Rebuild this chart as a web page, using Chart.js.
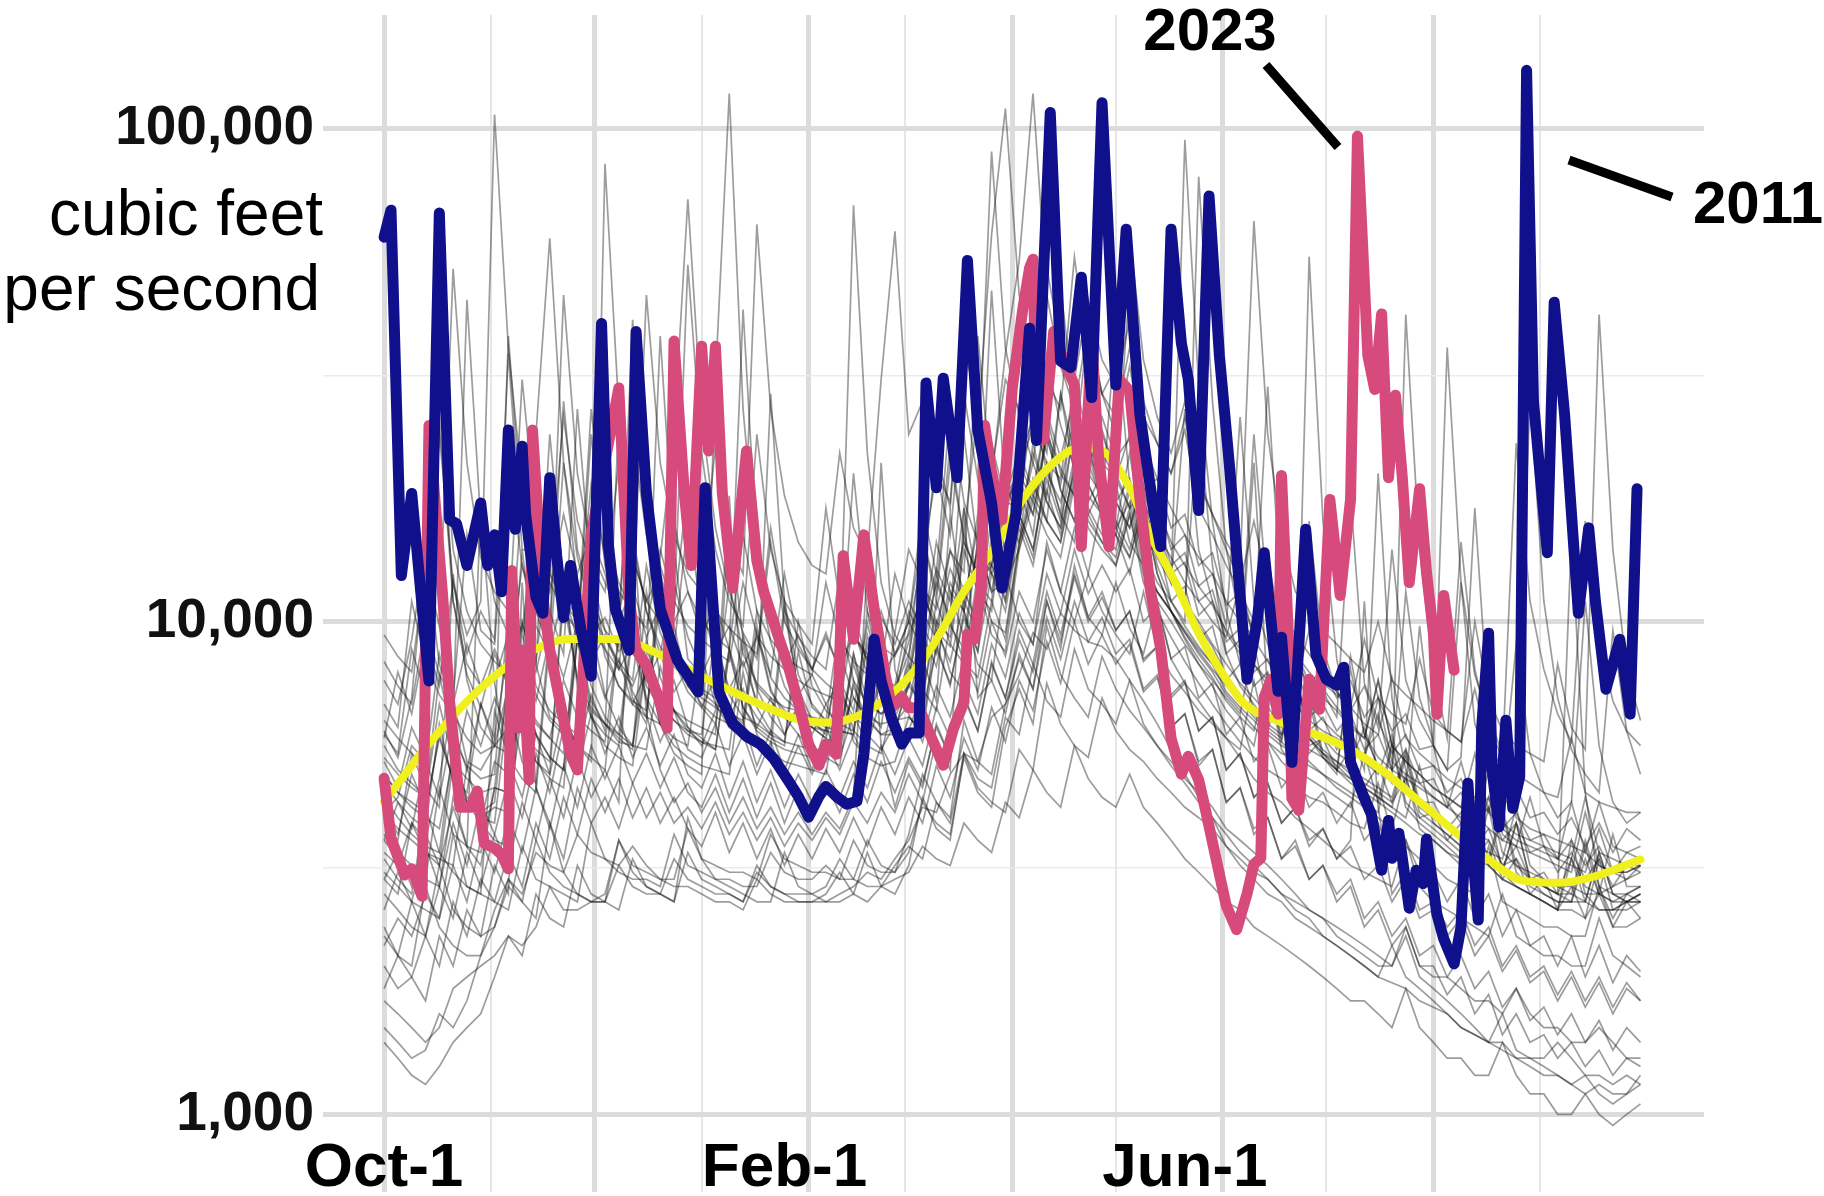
<!DOCTYPE html>
<html>
<head>
<meta charset="utf-8">
<script src="https://cdn.jsdelivr.net/npm/chart.js@4.4.1/dist/chart.umd.min.js"></script>
<style>
  html, body { margin: 0; padding: 0; background: #ffffff; }
  canvas { display: block; }
</style>
</head>
<body>
<canvas id="flow" width="1824" height="1196"></canvas>
<script>
// River flow in cubic feet per second, by day of the water year (Oct 1 = day 0).

// Water year 2011: [day, cfs]
const flow2011 = [
  [0,60300],[2,68400],[5,12400],[8,18200],[13,7580],[16,67500],[19,16100],[21,15800],[24,13000],[28,17400],
  [30,13000],[32,15000],[34,11500],[36,24500],[38,15400],[40,22700],[41,16500],[44,11200],[46,10400],[48,19600],
  [50,13600],[52,10200],[54,13000],[57,9650],[60,7750],[63,40300],[65,14300],[67,10600],[71,8750],[73,38800],
  [76,18200],[80,10600],[85,8350],[89,7580],[91,7200],[93,18700],[97,7200],[101,6220],[105,5850],[109,5640],
  [113,5260],[117,4770],[120,4420],[123,4010],[126,4420],[128,4630],[131,4420],[134,4260],[137,4320],[139,5380],
  [142,9210],[144,7580],[147,6370],[150,5640],[152,5940],[155,5940],[157,30500],[160,18700],[162,31200],[166,19600],
  [169,54100],[172,24500],[176,17400],[179,11700],[183,16500],[187,39400],[189,23300],[193,108000],[196,33800],[199,32800],
  [202,50000],[205,28500],[208,113000],[212,30200],[215,62600],[219,26200],[223,16800],[225,14200],[228,62600],[231,36700],
  [233,31000],[236,16800],[239,73100],[242,34700],[245,20400],[250,7640],[253,10100],[255,13800],[259,7220],[260,9300],
  [263,5180],[267,15400],[270,8550],[273,7640],[276,7430],[278,8080],[280,5180],[284,4380],[286,4070],[289,3130],
  [291,3950],[292,3310],[294,3720],[297,2620],[299,3130],[301,2940],[302,3620],[305,2550],[307,2270],[310,2020],
  [312,2400],[314,4700],[315,3620],[317,2480],[318,6110],[320,9470],[321,5000],[323,3830],[325,6310],[327,4180],
  [329,4840],[331,131500],[333,27900],[337,13800],[339,44500],[342,26400],[346,10400],[349,15500],[351,10900],[354,7290],
  [358,9210],[361,6490],[363,18600]
];

// Water year 2023 (ends in early August): [day, cfs]
const flow2023 = [
  [0,4810],[2,3630],[6,3060],[8,3150],[11,2770],[13,25000],[17,11200],[19,6860],[22,4200],[25,4200],
  [27,4530],[29,3550],[32,3470],[34,3370],[36,3150],[37,12700],[39,6080],[40,8760],[42,4770],[43,24500],
  [46,11200],[48,8760],[51,6860],[54,5380],[56,5000],[60,15000],[68,29800],[71,11200],[73,8760],[76,8160],
  [80,6860],[82,6080],[84,37100],[87,18200],[89,13000],[92,36200],[94,22200],[96,36200],[98,18200],[101,11700],
  [105,22200],[108,13300],[110,11500],[114,9430],[117,8160],[120,6860],[123,5640],[126,5110],[128,5640],[131,5380],
  [133,13600],[136,9210],[139,15000],[142,10600],[145,7930],[147,6690],[150,7030],[152,6690],[155,6690],[158,5940],
  [162,5110],[165,6080],[168,6860],[169,9430],[171,9210],[173,11700],[174,25000],[176,20100],[179,16100],[182,29800],
  [185,42900],[187,52200],[188,54400],[189,26200],[191,23400],[194,38800],[197,33800],[200,30200],[202,14200],[205,37800],
  [207,21600],[210,14200],[213,31000],[216,29400],[219,17700],[222,11600],[225,8790],[228,5800],[231,4900],[233,5330],
  [236,4770],[238,4140],[241,3310],[244,2650],[247,2370],[250,2800],[252,3220],[254,3310],[255,7030],[257,7640],
  [259,6490],[260,19800],[262,9300],[263,4380],[265,4140],[268,7640],[271,6640],[274,17700],[277,11300],[280,17700],
  [282,96700],[285,34700],[287,29600],[289,42100],[291,19600],[293,28800],[295,19600],[297,12000],[300,18600],[302,12600],
  [304,9470],[305,6490],[307,11300],[310,7970]
];

// Smoothed median of all years: [day, cfs]
const medianFlow = [
  [0,4310],[13,5650],[27,7220],[40,8500],[54,9220],[67,9220],[81,8500],[94,7620],[108,6840],[121,6300],
  [128,6240],[138,6470],[148,7220],[158,8730],[168,11500],[177,14200],[185,17700],[194,21000],[202,22600],[209,22000],
  [216,18700],[222,15000],[229,12100],[236,9470],[243,7830],[249,6840],[260,6240],[270,5900],[280,5500],[290,4940],
  [300,4310],[310,3760],[320,3290],[330,2980],[340,2950],[350,3030],[364,3290]
];

// Days at which the other years are sampled
const sampleDays = [
  0,4,8,12,16,20,24,28,32,36,40,44,48,52,56,60,64,68,72,76,80,84,88,92,96,100,104,108,112,116,
  120,124,128,132,136,140,144,148,152,156,160,164,168,172,176,180,184,188,192,196,200,204,208,212,216,220,224,228,232,236,
  240,244,248,252,256,260,264,268,272,276,280,284,288,292,296,300,304,308,312,316,320,324,328,332,336,340,344,348,352,356,
  360,364
];

// Other years, cfs at sampleDays (Oct | Nov | Dec | Jan | Feb | Mar | Apr | May | Jun | Jul | Aug | Sep)
const yearA = [4100,4400,5600,5200,26000,11000,8200,7400, 7600,9400,8300,7900,10500,8600,27000,12500, 9600,8100,7400,8900,7100,6600,6300,
  6100,5900,16000,9200,7300,6400,5900,6700, 6100,5800,7200,6400,6100,7900,7300, 9100,11800,10600,13900,12600,38000,19000,16500,
  21000,26000,22000,48000,27000,22000,24500, 20000,17000,18500,14500,12500,11000,26000,13000, 8600,7400,6800,6200,6900,5900,5600,5800,
  5400,5200,6100,5000,4800,4600,9800, 5600,4300,3900,3700,3600,3200,3300,3000, 2900,2800,3300,2900,2800,2900,3000,3200];
const yearB = [1500,1400,1300,1350,1600,1500,1700,2100, 2600,3000,2800,3400,3200,3100,3700,3400, 3300,3200,3500,3200,3000,2900,2900,
  2800,2700,2700,2600,3000,2800,2700,2700, 2700,2700,2800,2900,3100,3000,3300, 3600,4200,4100,4900,5400,5200,6400,6800,
  7800,9500,8800,10400,9600,9100,8900, 8400,7600,6900,6200,5500,4900,4400,4000, 3500,3200,3000,2800,2700,2500,2400,2300,
  2200,2100,2000,1900,1850,1800,1700, 1650,1600,1500,1450,1400,1350,1300,1250, 1200,1200,1150,1100,1150,1100,1100,1200];
const yearC = [3400,3200,3900,3600,4800,6900,5200,5000, 5600,6100,14000,8200,6400,6000,5700,9800, 7100,6100,5600,8300,6200,5400,5100,
  4900,31000,118000,27000,13000,9100,7400,6600, 6100,5800,5600,8600,6400,5900,6100, 7400,12000,9100,10400,17000,12000,13000,19000,
  16000,22000,18000,29000,20000,18000,16500, 19000,14500,13000,11500,10500,9200,8200,7400, 6600,6100,5600,7700,5500,5000,4800,4600,
  4400,4200,5400,4300,4100,3900,3700, 3600,3400,3200,4300,3200,3000,2900,2800, 2700,2600,3300,2700,2600,2600,2700,2800];
const yearD = [5900,5400,8800,7100,24000,12000,9400,11000, 107000,36000,19000,15000,12500,26000,16000,13000, 11500,21000,13500,11000,10000,16000,11500,
  10000,9300,8800,15000,10500,9200,8500,8100, 7800,12000,9200,8300,7800,10500,8600, 10000,15000,11500,23000,14500,12500,17500,14000,
  19000,15000,25000,18500,16000,22000,17500, 15000,12500,17000,12500,10500,9500,8600,7900, 7100,6600,6100,5700,5400,5300,55000,16000,
  8400,6000,5200,4900,5900,4600,4300, 4100,3900,3600,3400,3300,3100,3900,3000, 2800,2700,2700,3300,2800,2700,2800,2900];
const yearE = [3000,2800,3900,3400,3200,5200,4300,4000, 3900,6800,5200,4700,9800,6400,5600,5200, 85000,27000,14500,10500,8600,12000,9300,
  8000,7200,6600,6200,9800,7300,6400,5900, 5500,5300,5100,7600,5900,5500,6200, 6800,9400,8100,11500,9300,14500,11500,12000,
  14000,19000,16000,14500,21000,16500,14500, 13000,16500,12000,10500,9300,8300,7500,6800, 6200,5700,5300,5000,4800,4600,4400,4300,
  4100,3900,3800,4700,3700,3500,3300, 3200,3000,2900,2800,3500,2700,2600,2500, 2400,2400,2300,2300,2900,2400,2400,2500];
const yearF = [4900,4500,4300,4100,5900,4800,4500,6800, 5800,8900,7000,6200,5800,7600,6400,6000, 5700,9400,7200,6400,12000,8300,7200,
  6700,6200,8800,7100,6400,5900,11000,7800, 6800,6300,5900,8200,6600,6100,9500, 14000,12000,22000,17000,38000,25000,61000,110000,
  46000,33000,52000,37000,31000,45000,34000, 30000,41000,28000,23000,20000,24500,17000,15000, 13000,11500,10000,13500,9500,8600,7900,7300,
  6700,6200,5800,7600,5600,5200,4900, 4600,4400,4200,5400,4100,3800,3600,3500, 3400,3300,4300,3400,3200,3100,3100,3200];
const yearG = [1400,1300,1200,1150,1250,1400,1500,1600, 1900,2300,2100,2800,2500,2400,3200,2800, 2700,2600,3300,2900,2800,2700,3400,
  3000,2900,2800,2700,3200,2900,2800,2700, 2700,2800,3100,2800,2700,2900,3200, 3500,3300,4300,3900,5400,4800,4600,6400,
  5900,8200,6900,6400,8800,7300,6800, 6200,7600,6200,5600,5100,4700,4300,4000, 3700,3400,3200,3000,2800,2600,2500,2300,
  2200,2100,2000,1900,2200,1900,1800, 1700,1600,1500,1450,1400,1600,1350,1300, 1250,1200,1150,1200,1100,1050,1100,1150];
const yearH = [7600,6800,9200,14000,31000,14000,10500,9000, 8300,7800,13000,9800,8600,21000,12000,9700, 8800,8000,15000,10500,8900,8100,7600,
  7300,7000,12000,8600,7500,7000,6700,6600, 6400,6300,10000,7600,6800,6500,6900, 7400,9800,8600,12000,10500,14000,12500,14500,
  16500,14000,20500,16500,14500,23000,17500, 15500,13500,17000,12500,10500,9300,8400,7700, 6900,6400,6000,7800,5700,5300,5100,4900,
  4700,4500,4300,4100,5600,4200,3900, 3700,3500,3300,3200,4200,3100,2900,2800, 2700,2600,3600,2800,2600,2600,2700,2800];
const yearI = [3900,3600,5400,4600,4200,12500,7600,6100, 5600,38000,16000,11000,9400,28000,14000,11000, 9600,8900,41000,18500,13000,10500,53000,
  22000,14000,11000,9800,24000,14000,11000,9900, 9000,17000,11000,9400,8600,8100,12500, 10000,17000,12500,27000,17500,14500,23000,17500,
  17000,28000,20000,17500,24000,19000,16500, 15000,19000,14000,12000,11000,10000,80000,28000, 14000,10000,8200,7400,8600,6800,6300,6000,
  5800,5500,5300,6500,5000,4800,4600, 4400,4200,5200,4100,3800,3600,3500,4400, 3500,3300,3200,3100,3800,3100,3000,3100];
const yearJ = [4400,4000,3700,3500,3400,5600,4300,3900, 5200,4900,9500,7100,6300,5900,5600,11500, 8500,7400,6900,6600,11000,8400,7400,
  7000,6700,6400,9400,7400,6900,6400,6300, 6200,6000,8700,7000,6400,6200,6300, 6400,6000,9000,7400,10500,8200,7600,12500,
  10000,9000,14500,11500,10000,12500,10500, 9400,8600,11500,8800,7800,7200,6600,6200, 5800,5500,7600,5700,5200,4900,6900,5300,
  4900,8500,5900,5100,4700,42000,14000, 8000,5800,14500,8000,6100,5300,23000,11000, 8000,6500,5700,16000,9200,6900,6000,5600];
const yearK = [2300,2100,2000,2900,2400,2200,2100,2100, 2400,3000,2700,2500,3900,3100,2800,2700, 2700,3600,3100,2900,2800,2700,4000,
  3300,3000,2900,2800,2700,2700,3400,2900, 2800,2700,2700,2800,3400,2900,2800, 3200,4400,3800,3600,5400,4600,4300,4100,
  5500,5000,7500,6200,5600,5300,7000, 6000,5500,5200,4800,4500,4200,4000,3800, 3500,3300,3100,3000,2800,2700,2600,2500,
  2400,2300,2200,2100,2000,2400,2000, 1900,1900,1800,1700,1700,1600,1800,1600, 1500,1500,1400,1400,1500,1400,1300,1300];
const yearL = [5600,5000,4700,4400,7800,5800,5100,4800, 4900,10500,7300,6300,5800,5400,9300,6900, 6200,5800,5500,11500,7700,6600,6100,
  5800,5500,8800,6700,6000,5700,5500,5400, 5300,5200,7600,6000,5600,5400,7000, 9600,13500,20000,15000,29000,19500,90000,36000,
  26000,21000,34000,25000,20500,29000,22000, 19500,17000,24000,17000,14500,13000,11800,10800, 9600,8800,8200,7600,7100,9400,6800,6300,
  5900,5600,5300,7000,5200,4900,4700, 4400,4200,4000,3800,5000,3700,3500,3400, 3300,3200,3100,4100,3200,3100,3100,3200];
const yearM = [3600,3300,3100,3000,4600,3700,3500,3400, 4600,4500,7600,5900,5300,5000,9200,6700, 6200,5700,5600,5500,8100,6600,6000,
  5700,5600,5500,9000,6700,6000,5700,5600, 5500,5500,5500,7400,6300,5900,5900, 6000,7300,6600,10000,8300,7700,11000,9200,
  14500,19500,16000,29000,22000,40000,29000, 33000,61000,34000,26000,22000,28000,19500,16500, 14000,12000,16000,12000,10500,9400,8600,7900,
  7200,6700,6200,5900,7700,5800,5400, 5100,4800,4600,4400,4100,5400,4000,3800, 3700,3600,3500,3400,4300,3500,3400,3500];
const yearN = [3100,2900,2700,2600,2500,3700,2900,2800, 2700,2600,3500,3000,2900,2800,2700,3900, 3300,3100,3000,3000,2900,3700,3200,
  3100,3000,3000,2900,2900,3400,3100,3000, 3000,3200,3000,3000,3600,3200,3100, 3700,4900,4300,4000,6300,5200,4900,6800,
  8400,7300,11000,8800,13000,10200,9400, 12000,9700,8600,11000,8400,7500,6900,6300, 5800,5300,4800,4500,4300,4000,3800,3600,
  3400,3200,3100,3000,2900,3600,2900, 2700,2600,2500,2400,2300,2800,2300,2200, 2100,2100,2000,2000,2500,2100,2000,1900];
const yearO = [8300,7400,6800,9900,7800,7000,15000,9600, 9000,21000,13000,10500,9500,46000,20000,14000, 12000,10500,24000,15000,12000,10500,19000,
  12500,10500,9700,9100,8600,15500,10500,9300, 8500,8000,12500,9400,8400,7800,7400, 10500,9300,14500,11500,10500,16500,12500,11500,
  21000,18000,26000,20000,18000,23000,19000, 17500,15500,19000,14500,12500,11000,9800,8900, 7800,7100,6600,6200,5900,7800,5800,5400,
  5200,5000,4800,4600,4400,5500,4300, 4100,3900,3700,3500,3400,3300,4200,3200, 3000,2900,2900,2800,2800,3700,2900,2900];
const yearP = [4900,4500,4200,4000,3800,5300,4400,4100, 4300,7700,5900,5200,4900,12000,7600,6400, 5900,5600,9400,7000,6200,5800,5600,
  8500,6800,6100,5800,5600,5500,10500,7300, 6300,5900,8800,70000,22000,12000,9400, 8500,7800,12500,9800,8800,14500,11500,16500,
  14500,23000,17500,15500,20000,17000,15000, 14000,18500,13500,11500,10500,9500,8700,8000, 7400,6900,6400,6000,5700,7900,5800,5300,
  5000,4700,4500,4300,5700,4300,4000, 3800,3600,3400,3300,3200,4100,3100,2900, 2800,2700,2700,3500,2800,2700,2700,2800];
const yearQ = [1700,1600,1500,1400,1500,1800,1900,2000, 2100,2300,2200,2400,2900,2600,2600,2700, 2700,3200,2900,2800,2800,3300,3000,
  2900,2800,2800,2700,3100,2900,2800,2800, 2800,2900,3300,3000,2900,2900,3000, 3100,3500,3300,3200,3900,3600,3400,4300,
  4000,5000,4500,4200,5600,4800,4400, 4200,4900,4200,3900,3600,3300,3100,2900, 2700,2600,2400,2300,2200,2100,2000,1900,
  1800,1700,1700,1600,1500,1800,1500, 1400,1300,1300,1200,1200,1400,1200,1100, 1100,1000,1000,1100,1000,950,1000,1050];
const yearR = [9400,8500,7900,13000,9800,52000,21000,13500, 11500,10500,9600,16000,12000,10500,9600,27000, 15000,12000,10500,9700,14000,11000,9800,
  9200,8700,8300,12000,9400,8500,8000,7600, 7300,7100,6900,9800,7800,7200,7000, 7800,10500,9200,14000,11500,10000,16500,12500,
  19000,16500,24000,18500,16000,21000,17500, 16000,14000,18000,13500,12000,95000,30000,16000, 10500,8200,6600,6000,7700,5600,5200,4900,
  4600,4400,4200,4000,3800,4900,3800, 3600,3400,3300,4200,3200,3000,2900,2800, 2700,2600,2600,2500,3300,2600,2600,2700];
const yearS = [6300,5800,5400,5100,8600,6500,5800,5400, 5600,5400,10000,7400,6600,6200,5900,12500, 8800,7400,6800,6400,6200,9800,7400,
  6800,6400,6200,6000,9500,7200,6600,6300, 6100,6000,5900,8600,6900,6500,6800, 8000,11500,9600,8900,14000,11500,10500,17500,
  20000,25000,21000,19500,31000,23500,21000, 19500,24000,17500,15000,13500,12000,11000,10000, 9300,12000,9200,8300,7800,7400,9600,7500,
  7100,6700,9200,7000,6500,6200,8400, 6500,6000,5700,10000,7000,6000,5600,5400, 5200,8200,6100,5500,42000,14000,8000,6300];
const yearT = [3300,3000,2800,4200,3400,3100,2900,2800, 6600,5300,4800,4500,9200,6400,5600,5300, 5000,9400,7000,6200,13500,24000,72000,
  26000,15500,11500,9500,8400,14500,10000,8800, 8000,7500,7100,10500,8200,7500,7300, 8600,12000,10000,9300,15000,12000,11000,18000,
  20000,17500,24000,20500,18000,22000,19000, 17500,15500,20000,14500,12500,11000,10000,9000, 8200,7500,7000,6500,6100,7900,5900,5500,
  5200,4900,4700,4500,4300,5400,4200, 4000,3800,3600,3500,4400,3400,3200,3100, 3000,2900,2800,3600,2900,2800,2800,2900];
const yearU = [4100,3800,3600,3400,3300,3200,5100,3900, 3600,3500,8100,24000,60000,21000,13500,10500, 9200,8300,7600,13000,9500,8300,7600,
  7200,6800,6500,6300,10500,7700,7000,6600, 6300,6100,6000,5900,9000,7000,6400, 7400,6800,11000,9000,8200,12500,10000,9500,
  14500,18000,16000,14500,19500,16000,14500, 13500,17000,13000,11500,10500,9600,8800,8200, 7600,7000,6500,6100,5800,7800,5800,5400,
  5100,4800,4600,4400,4200,5300,4100, 3900,3700,3500,3400,3300,4200,3200,3000, 2900,2800,2700,2700,3400,2800,2700,2700];
const yearV = [5300,4900,4600,4400,6800,5200,4800,4500, 4600,4500,7600,5900,5300,5000,10500,7400, 6400,5900,5600,9200,7000,6300,5900,
  5700,5500,8600,6700,6100,5800,5600,10000, 7400,6600,6200,6000,9400,7200,6600, 8400,15000,11000,21000,15000,27000,19500,35000,
  54000,118000,46000,33000,27000,40000,29000, 24000,33000,23000,19500,17000,15000,13500,12500, 11000,10000,9300,12500,9000,8200,7500,7000,
  6600,6100,5800,7600,5600,5200,4900, 4600,4400,4200,4000,5300,3900,3700,3600, 3500,3400,3300,4400,3400,3300,3200,3200];
const yearW = [2800,2600,2400,2300,3200,2600,2400,2300, 2400,2900,2700,3600,3100,2900,2800,2700, 2800,3600,3200,3100,3000,3000,3800,
  3300,3200,3100,3100,3000,3700,3300,3200, 3100,3100,3000,3600,3200,3100,3100, 3400,4300,3900,3700,5300,4500,4200,6100,
  7300,6200,9800,7800,7000,6400,8500, 7300,6600,6100,5600,5200,4800,4500,4200, 3800,3600,3400,3200,3000,2800,2600,2500,
  2300,2200,2100,2000,2000,2300,1900, 1800,1700,1600,1500,1400,1400,1300,1300, 1300,1400,1300,1200,1200,1150,1200,1150];
const yearX = [6800,6100,11000,8300,7100,6500,45000,16000, 11000,9400,31000,16000,12500,11000,10000,19000, 13500,11500,10500,46000,21000,15000,12500,
  11500,23000,14500,12500,64000,27000,18000,14500, 13000,12500,22000,15500,13500,31000,62000, 24000,28000,20000,17500,40000,24000,20000,31000,
  27000,40000,31000,27000,55000,34000,29000, 26000,36000,26000,23000,20000,26000,19000,16500, 14500,13000,65000,24000,15000,11500,10500,9600,
  9000,8400,7900,10000,7600,7100,6700, 6300,6000,5700,7300,5500,5100,4900,4700, 4500,4400,5800,4500,4300,4200,4100,4100];
const yearY = [3700,3400,3200,3000,2900,4400,3500,3200, 4600,7700,6000,5500,5200,11000,7700,6600, 6200,5900,9800,7400,6700,6300,6000,
  5900,9500,7100,6400,6200,5900,5700,8700, 6700,6300,6000,5900,10500,7600,6700, 6800,8400,6900,16500,10500,8700,15000,11000,
  16000,21000,17500,15500,26000,19000,16500, 15000,13500,17500,13000,11000,9800,8900,8200, 7200,6700,6300,5900,5600,5400,7200,5400,
  5000,4800,4600,4400,4200,4000,5100, 3900,3700,3500,3400,3300,3100,3900,3000, 2900,2800,2800,2700,3400,2800,2700,2700];
const yearZ = [4700,4300,4000,3800,6200,4700,4300,4000, 4200,4100,6600,5200,4800,4600,9300,6400, 5600,5300,5100,8300,6200,5600,5300,
  5100,5000,4900,7900,5900,5400,5200,5100, 5000,4900,7400,5700,5300,5100,5200, 6400,6000,10000,7900,7200,12000,9400,8700,
  14000,17500,15000,13500,19000,15500,14000, 13000,16500,12500,11000,10000,9000,8200,7600, 7000,6500,9000,6700,6200,5800,5500,5300,
  5000,8000,5900,5300,5000,11500,7000, 5700,36000,12000,7800,6400,5400,4800,29000, 11000,7000,5500,4900,4500,9600,6000,4900];
const yearAA = [3600,4300,3800,5200,4400,6100,5000,6800, 5600,7400,6200,8300,24000,12000,7400,8600, 7000,8400,6800,7900,6400,7600,6100,
  5600,6600,18000,6300,5100,6000,5000,5900, 5000,6100,5300,6500,5600,7000,6000, 7600,6600,8800,7500,10200,8700,12500,10500,
  15500,13000,18500,15000,20500,16500,19000, 15500,17500,13500,14500,11000,11800,9200,9800, 7600,8200,21000,7100,5900,6400,5400,5800,
  5000,5500,4600,5100,4300,4800,4000, 4100,3600,3900,3300,3600,3000,3300,2800, 3000,2600,2900,2500,2800,2400,2700,2500];
const yearBB = [2400,2100,2700,2300,2900,2500,3400,2900, 3700,3200,4300,3600,4800,4000,5300,4400, 5000,4300,16000,6500,5000,4300,4700,
  4100,4600,3900,4400,3800,4200,3700,4100, 3700,4100,3800,4400,13000,5600,4200, 5200,4600,6200,5300,7100,6000,8300,7000,
  9600,8200,11500,9400,12500,10200,11500, 9600,10500,8300,8900,7000,7500,6000,6400, 5000,5400,4400,4700,3900,4200,3600,3800,
  3300,3600,11000,4200,2800,3100,2600, 2700,2400,2600,2200,2400,2000,2200,1900, 2000,1750,1950,1700,1900,1650,1850,1700];
const yearCC = [5200,4600,6100,5300,33000,11000,7800,6700, 8600,7400,9900,8300,14500,10000,11200,9400, 10200,8700,9600,8200,38000,14000,8400,
  7800,9000,7300,8300,6900,29000,11000,7100, 7800,6800,7600,6600,9900,7700,8600, 9400,11400,9800,12800,11000,15500,13000,17500,
  19500,16500,23500,19000,26000,21000,24000, 20000,48000,21000,18000,14000,15000,11800,12500, 9800,26000,11000,9000,7400,8000,6800,7200,
  6400,18000,7500,6300,5400,5900,5000, 5100,4500,4800,4100,4400,3800,4100,3600, 3700,3300,3600,3200,3500,3100,3400,3300];
const yearDD = [2000,1800,1900,1700,2300,2000,2600,2300, 3200,2800,12000,4600,3900,3300,4600,3900, 4400,3800,4700,4000,4500,3900,4200,
  3800,4300,3700,4100,3600,4000,3500,3900, 3600,4000,3700,4300,3900,4500,4100, 4900,4300,5800,5000,17000,7000,7600,6500,
  8600,7300,10200,8400,11000,9100,10200, 8600,9200,7300,7800,6100,6500,5200,5500, 4300,4600,3700,4000,3300,3500,3000,3200,
  2700,2900,2400,2600,2200,2400,2000, 2000,1750,1900,1600,1750,1450,1600,1400, 1450,1300,1400,1250,1350,1200,1300,1250];
const yearEE = [5800,7900,6500,9200,7400,12000,8600,10500, 9200,35000,14000,14000,11500,16500,12500,15000, 12500,10500,13500,11000,12500,10000,11500,
  9400,10800,8800,43000,14000,9800,8200,9400, 8000,9300,8000,9500,8400,10200,9000, 11000,9600,12800,11000,14500,12500,47000,18000,
  22000,18500,26500,21500,28500,23000,26000, 21500,23500,18500,19500,15500,16500,13000,13800, 10800,11500,9300,30000,11000,8800,7500,8000,
  7000,7600,6400,7000,6000,6500,5500, 5600,5000,5300,17000,6500,4200,4600,4000, 4100,3700,4000,3500,3900,3400,3800,3600];
const yearFF = [3000,3400,2900,3700,3200,4200,3500,17000, 7500,5200,4400,5900,4900,6600,5400,7100, 6000,26000,9000,6900,5700,6600,5500,
  5300,6200,5100,5900,4900,5700,4800,5600, 4900,5700,5000,5900,5200,21000,8000, 6500,5700,7400,6400,8500,7200,10000,8500,
  11500,10000,14000,11500,15500,12500,17500, 40000,19000,15000,16000,12500,13200,10300,11000, 8600,9200,7400,7900,6500,7000,6000,6400,
  5500,6000,5000,20000,7000,5000,4300, 4300,3800,4100,3500,3800,3200,3500,3000, 3100,2800,15000,4500,2900,2500,2800,2700];
const yearGG = [2600,3100,2700,3500,2900,3900,3200,4300, 3700,4800,4000,5400,4500,6100,5000,6500, 5400,6400,5300,6100,5100,5900,4900,
  4600,5400,4400,5200,4300,5000,4200,4900, 4300,5000,4400,5200,4600,5600,4900, 5800,5100,6700,5800,7600,6500,9000,7700,
  10400,9000,12500,10400,14000,11400,13000, 11500,12800,10000,10700,8400,8900,7000,7500, 5900,6400,5200,5600,4600,5000,4200,4500,
  3900,4300,3600,3900,3300,3600,3100, 3100,2700,3000,2500,2800,2300,2600,2200, 2300,2000,2300,1900,2200,1850,2100,1950];
const yearHH = [4200,3700,4900,4200,5800,4800,6600,5600, 7000,5900,8200,6900,9300,7700,10000,8300, 9400,8000,9000,7600,8600,7200,8000,
  6700,7700,6400,7300,6100,7000,5900,6800, 5900,6800,6000,7000,6300,7500,6600, 8200,7200,9600,8300,11000,9500,13000,11000,
  16500,14000,19500,16000,21500,17500,20000, 17500,19500,15500,16500,13000,13800,11000,11600, 9100,9700,7900,8400,7000,7500,6400,6800,
  6000,6500,5500,5900,5000,5500,4700, 4800,4200,4500,3900,4200,3600,3900,3400, 3500,3100,3400,3000,3300,2900,3200,3100];
const yearII = [1800,2100,1900,2300,2000,2700,2300,3000, 2700,3400,2900,3900,3300,4400,3700,4800, 4100,4800,4000,4600,3900,4400,3800,
  3500,4100,3400,3900,3300,3800,3200,3700, 3300,3800,3400,4000,3500,4200,3700, 4400,3900,5100,4400,5800,5000,6700,5700,
  7600,6600,9100,7500,10000,8200,9400, 8200,9000,7200,7700,6100,6500,5100,5500, 4300,4600,3800,4000,3300,3600,3000,3200,
  2800,3000,2500,2700,2300,2500,2100, 2200,1900,2100,1800,1950,1650,1800,1550, 1650,1450,1600,1400,1550,1350,1500,1400];
const yearJJ = [6000,5300,7000,14000,8200,6800,9000,7400, 8800,7500,18000,10500,8700,11500,9200,24000, 13000,10000,11800,9300,10800,8800,16000,
  10500,8700,9800,8100,9300,7800,12500,9000, 8000,9500,7900,20000,10500,8900,8500, 10000,8800,12000,10200,24000,14000,13000,12000,
  16000,13500,21000,16500,30000,20000,18000, 15500,22000,14500,15500,12000,27000,14000,11000, 9500,8600,24000,11000,8400,7600,16000,8800,
  7200,6600,7400,6100,14000,7600,6300, 5600,5000,12000,6200,5200,4600,9000,5400, 4500,4000,4300,11000,5600,4300,3900,4100];
const yearKK = [2200,2500,2300,2800,2500,3200,2700,3600, 3100,4000,3400,4600,3800,5100,4200,5600, 4800,5600,4700,5400,4600,5300,4500,
  4200,4900,4100,4800,4000,4700,3900,4600, 4000,4700,4100,4900,4300,5200,4500, 5300,4700,6100,5300,7000,6000,8200,7000,
  9200,7900,11000,9100,12300,10000,11200, 9600,10500,8400,8900,7100,7600,6000,6400, 5000,5400,4400,4700,3900,4200,3500,3800,
  3300,3500,3000,3200,2700,3000,2500, 2600,2300,2500,2100,2300,1950,2150,1850, 1950,1700,1900,1650,1850,1600,1800,1700];

const otherYears = [yearA, yearB, yearC, yearD, yearE, yearF, yearG, yearH, yearI, yearJ, yearK, yearL, yearM,
  yearN, yearO, yearP, yearQ, yearR, yearS, yearT, yearU, yearV, yearW, yearX, yearY, yearZ,
  yearAA, yearBB, yearCC, yearDD, yearEE, yearFF, yearGG, yearHH, yearII, yearJJ, yearKK];

// Axes
const monthStarts = [0, 31, 61, 92, 123, 151, 182, 212, 243, 273, 304, 335];
const yTickValues = [1000, 3162.28, 10000, 31622.8, 100000];
const dateLabels = ['Oct-1', 'Feb-1', 'Jun-1'];
const dateLabelDays = [0, 116, 232];

const FONT = '"Liberation Sans", Arial, Helvetica, sans-serif';

const grayDatasets = otherYears.map(vals => ({
  data: sampleDays.map((d, i) => ({ x: d, y: vals[i] })),
  borderColor: 'rgba(20,20,20,0.42)',
  borderWidth: 1.7,
  pointRadius: 0,
  tension: 0,
  order: 3
}));

const textPlugin = {
  id: 'chartText',
  afterDraw(chart) {
    const ctx = chart.ctx;
    const xs = chart.scales.x;
    ctx.save();
    ctx.fillStyle = '#000';
    ctx.textBaseline = 'alphabetic';

    // unit label beside the y axis
    ctx.font = '64px ' + FONT;
    ctx.textAlign = 'right';
    ctx.fillText('cubic feet', 323, 235);
    ctx.fillText('per second', 320, 310);

    // dates under the plot
    ctx.font = 'bold 62px ' + FONT;
    ctx.textAlign = 'center';
    dateLabels.forEach((t, i) => ctx.fillText(t, xs.getPixelForValue(dateLabelDays[i]), 1186));

    // year callouts
    ctx.font = 'bold 60px ' + FONT;
    ctx.textAlign = 'center';
    ctx.fillText('2023', 1210, 50);
    ctx.textAlign = 'left';
    ctx.fillText('2011', 1693, 223);

    ctx.strokeStyle = '#000';
    ctx.lineWidth = 9;
    ctx.lineCap = 'butt';
    ctx.beginPath();
    ctx.moveTo(1266, 65); ctx.lineTo(1338, 147);
    ctx.moveTo(1569, 160); ctx.lineTo(1672, 197);
    ctx.stroke();
    ctx.restore();
  }
};

const isDecade = v => Math.abs(Math.log10(v) - Math.round(Math.log10(v))) < 1e-6;

new Chart(document.getElementById('flow'), {
  type: 'line',
  data: {
    datasets: [
      {
        label: '2011',
        data: flow2011.map(([d, v]) => ({ x: d, y: v })),
        borderColor: '#10108c', borderWidth: 11, pointRadius: 0, tension: 0,
        borderJoinStyle: 'round', borderCapStyle: 'round', order: 0
      },
      {
        label: '2023',
        data: flow2023.map(([d, v]) => ({ x: d, y: v })),
        borderColor: '#d64b7c', borderWidth: 11, pointRadius: 0, tension: 0,
        borderJoinStyle: 'round', borderCapStyle: 'round', order: 1
      },
      {
        label: 'median',
        data: medianFlow.map(([d, v]) => ({ x: d, y: v })),
        borderColor: '#f0f01e', borderWidth: 8, pointRadius: 0,
        cubicInterpolationMode: 'monotone', borderCapStyle: 'round', order: 2
      },
      ...grayDatasets
    ]
  },
  options: {
    responsive: false,
    animation: false,
    devicePixelRatio: 1,
    layout: { padding: { top: 15, right: 120, bottom: 0, left: 0 } },
    plugins: { legend: { display: false }, tooltip: { enabled: false }, title: { display: false } },
    scales: {
      x: {
        type: 'linear',
        min: -17.7,
        max: 382.4,
        afterBuildTicks: s => { s.ticks = monthStarts.map(v => ({ value: v })); },
        afterFit: s => { s.height = 56; s.paddingLeft = 0; s.paddingRight = 0; },
        ticks: { display: false },
        border: { display: false },
        grid: {
          color: c => (c.index % 2 === 0 ? '#dcdcdc' : '#e6e6e6'),
          lineWidth: c => (c.index % 2 === 0 ? 5 : 2),
          drawTicks: true,
          tickLength: 52
        }
      },
      y: {
        type: 'logarithmic',
        min: 887,
        max: 170300,
        afterBuildTicks: s => { s.ticks = yTickValues.map(v => ({ value: v })); },
        afterFit: s => { s.width = 323; s.paddingTop = 0; s.paddingBottom = 0; },
        border: { display: false },
        grid: {
          color: c => (c.tick && isDecade(c.tick.value) ? '#dcdcdc' : '#ebebeb'),
          lineWidth: c => (c.tick && isDecade(c.tick.value) ? 5 : 1.5),
          drawTicks: false
        },
        ticks: {
          autoSkip: false,
          padding: 9,
          color: '#111',
          font: { family: FONT, size: 55, weight: 'bold' },
          callback: v => (isDecade(v) ? Number(v).toLocaleString('en-US') : '')
        }
      }
    }
  },
  plugins: [textPlugin]
});
</script>
</body>
</html>
